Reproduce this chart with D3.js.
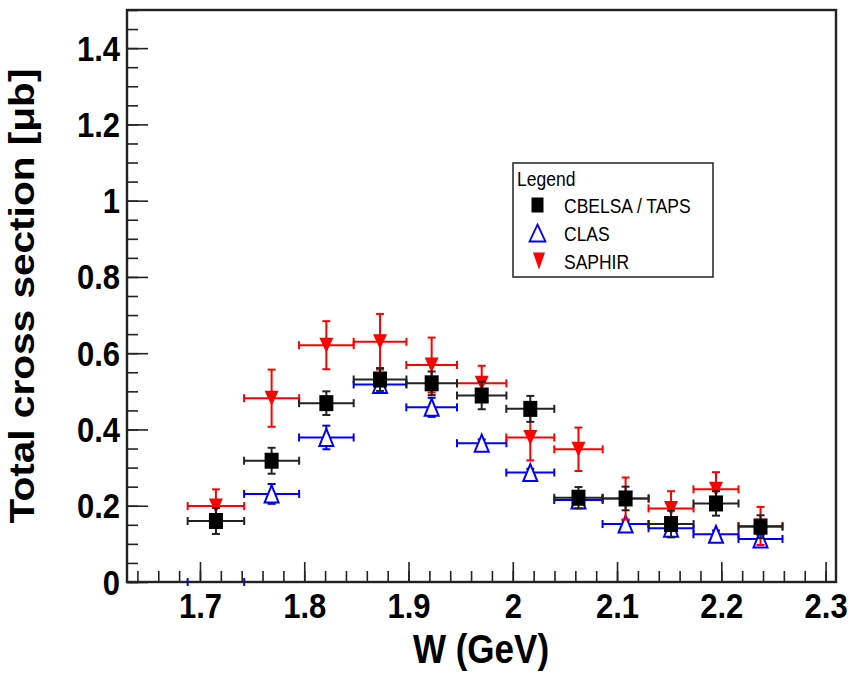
<!DOCTYPE html>
<html>
<head>
<meta charset="utf-8">
<script src="https://cdn.jsdelivr.net/npm/d3@7"></script>
<style>
  html, body { margin: 0; padding: 0; background: #fff; }
  svg { display: block; }
  text { font-family: "Liberation Sans", Arial, Helvetica, sans-serif; }
</style>
</head>
<body>
<svg id="chart" width="850" height="676"></svg>
<script>
// W bins (GeV): centre and half-width of each bin
const wCenter = [1.7153, 1.7687, 1.8212, 1.8727, 1.9222, 1.9702, 2.0168, 2.0630, 2.1082, 2.1518, 2.1949, 2.2376];
const wHalf   = [0.0271, 0.0264, 0.0262, 0.0253, 0.0243, 0.0237, 0.0230, 0.0232, 0.0221, 0.0216, 0.0216, 0.0211];

// Total cross sections in microbarn with their errors
const cbelsaValues = [0.160, 0.318, 0.469, 0.531, 0.521, 0.489, 0.454, 0.221, 0.219, 0.152, 0.206, 0.145];
const cbelsaErrors = [0.034, 0.034, 0.031, 0.030, 0.031, 0.036, 0.034, 0.028, 0.031, 0.035, 0.032, 0.030];
const clasValues   = [0.000, 0.231, 0.379, 0.518, 0.458, 0.364, 0.287, 0.215, 0.152, 0.141, 0.125, 0.113];
const clasErrors   = [0.000, 0.026, 0.031, 0.020, 0.025, 0.010, 0.010, 0.010, 0.010, 0.010, 0.010, 0.010];
const saphirValues = [0.199, 0.482, 0.621, 0.630, 0.569, 0.521, 0.379, 0.348, 0.219, 0.193, 0.243, 0.147];
const saphirErrors = [0.044, 0.075, 0.063, 0.073, 0.072, 0.046, 0.060, 0.057, 0.055, 0.045, 0.045, 0.050];

const xTickValues = [1.7, 1.8, 1.9, 2.0, 2.1, 2.2, 2.3];
const xTickLabels = ["1.7", "1.8", "1.9", "2", "2.1", "2.2", "2.3"];
const yTickValues = [0, 0.2, 0.4, 0.6, 0.8, 1.0, 1.2, 1.4];
const yTickLabels = ["0", "0.2", "0.4", "0.6", "0.8", "1", "1.2", "1.4"];

const seriesNames = ["CBELSA / TAPS", "CLAS", "SAPHIR"];

const svg = d3.select("#chart");
const frame = { left: 127, right: 836, top: 10, bottom: 582 };
const STRETCH = 1.16;   // glyphs are drawn a little taller than wide

const x = d3.scaleLinear().domain([1.63, 2.31]).range([frame.left, frame.right]);
const y = d3.scaleLinear().domain([0, 1.5]).range([frame.bottom, frame.top]);

// ---- data ----
const rows = (vals, errs) => vals.map((v, i) => ({ w: wCenter[i], dw: wHalf[i], v, e: errs[i] }));

const CAP = 4;
function errorBars(g, data, color) {
  const eg = g.append("g").attr("stroke", color).attr("stroke-width", 2).attr("fill", "none");
  data.forEach(d => {
    const cx = x(d.w), cy = y(d.v);
    const x0 = x(d.w - d.dw), x1 = x(d.w + d.dw);
    eg.append("line").attr("x1", x0).attr("x2", x1).attr("y1", cy).attr("y2", cy);
    eg.append("line").attr("x1", x0).attr("x2", x0).attr("y1", cy - CAP).attr("y2", cy + CAP);
    eg.append("line").attr("x1", x1).attr("x2", x1).attr("y1", cy - CAP).attr("y2", cy + CAP);
    if (d.e > 0) {
      const y0 = y(d.v - d.e), y1 = y(d.v + d.e);
      eg.append("line").attr("x1", cx).attr("x2", cx).attr("y1", y0).attr("y2", y1);
      eg.append("line").attr("x1", cx - CAP).attr("x2", cx + CAP).attr("y1", y0).attr("y2", y0);
      eg.append("line").attr("x1", cx - CAP).attr("x2", cx + CAP).attr("y1", y1).attr("y2", y1);
    }
  });
}

const inside = d => y(d.v) < frame.bottom - 0.5;

const triUp = "M0,-8.5L7,8.5L-7,8.5Z";
const triDown = "M-7,-7.5L7,-7.5L0,7.5Z";

// CLAS: open blue triangles
const clas = rows(clasValues, clasErrors);
const gClas = svg.append("g");
errorBars(gClas, clas, "#0000ff");
gClas.selectAll("path").data(clas.filter(inside)).join("path")
  .attr("d", triUp)
  .attr("transform", d => `translate(${x(d.w)},${y(d.v)})`)
  .attr("fill", "#fff").attr("stroke", "#0000ff").attr("stroke-width", 2);

// SAPHIR: full red inverted triangles
const saphir = rows(saphirValues, saphirErrors);
const gSaphir = svg.append("g");
errorBars(gSaphir, saphir, "#ff0000");
gSaphir.selectAll("path").data(saphir.filter(inside)).join("path")
  .attr("d", triDown)
  .attr("transform", d => `translate(${x(d.w)},${y(d.v)})`)
  .attr("fill", "#ff0000");

// CBELSA/TAPS: full black squares
const cbelsa = rows(cbelsaValues, cbelsaErrors);
const gCb = svg.append("g");
errorBars(gCb, cbelsa, "#222");
gCb.selectAll("rect").data(cbelsa.filter(inside)).join("rect")
  .attr("x", d => x(d.w) - 7).attr("y", d => y(d.v) - 8)
  .attr("width", 14).attr("height", 16)
  .attr("fill", "#000");

// ---- axes (ticks point into the frame), drawn over the data ----
const axisColor = "#222";

const yMinor = svg.append("g").attr("transform", `translate(${frame.left},0)`)
  .call(d3.axisLeft(y).tickValues(y.ticks(30)).tickSize(-11).tickSizeOuter(0).tickFormat(""));
const yMajor = svg.append("g").attr("transform", `translate(${frame.left},0)`)
  .call(d3.axisLeft(y).tickValues(yTickValues).tickSize(-21).tickSizeOuter(0)
    .tickPadding(7).tickFormat((d, i) => yTickLabels[i]));
const xMinor = svg.append("g").attr("transform", `translate(0,${frame.bottom})`)
  .call(d3.axisBottom(x).tickValues(x.ticks(34)).tickSize(-11).tickSizeOuter(0).tickFormat(""));
const xMajor = svg.append("g").attr("transform", `translate(0,${frame.bottom})`)
  .call(d3.axisBottom(x).tickValues(xTickValues).tickSize(-20).tickSizeOuter(0)
    .tickFormat((d, i) => xTickLabels[i]));

[yMinor, yMajor, xMinor, xMajor].forEach(g => {
  g.select(".domain").remove();
  g.selectAll(".tick line").attr("stroke", axisColor).attr("stroke-width", 1.6);
});

yMajor.selectAll(".tick text")
  .attr("fill", "#000").attr("font-size", 31).attr("font-weight", "bold")
  .attr("dy", null).attr("y", 12 / STRETCH)
  .attr("transform", `scale(1,${STRETCH})`);

xMajor.selectAll(".tick text")
  .attr("fill", "#000").attr("font-size", 31).attr("font-weight", "bold")
  .attr("dy", null).attr("y", 36 / STRETCH)
  .attr("transform", `scale(1,${STRETCH})`);

// frame
svg.append("rect")
  .attr("x", frame.left).attr("y", frame.top)
  .attr("width", frame.right - frame.left).attr("height", frame.bottom - frame.top)
  .attr("fill", "none").attr("stroke", axisColor).attr("stroke-width", 2.4);

// axis titles
svg.append("text")
  .attr("transform", `translate(481,663) scale(1,${STRETCH})`)
  .attr("text-anchor", "middle").attr("font-size", 35).attr("font-weight", "bold")
  .attr("fill", "#000").text("W (GeV)");

svg.append("text")
  .attr("transform", `translate(34,296) scale(1,${STRETCH}) rotate(-90)`)
  .attr("text-anchor", "middle").attr("font-size", 35).attr("font-weight", "bold")
  .attr("fill", "#000").text("Total cross section [\u03bcb]");

// ---- legend ----
const lg = svg.append("g");
lg.append("rect").attr("x", 513).attr("y", 163).attr("width", 200).attr("height", 114)
  .attr("fill", "#fff").attr("stroke", "#222").attr("stroke-width", 1.5);

const legendText = (tx, ty, s) => lg.append("text")
  .attr("transform", `translate(${tx},${ty}) scale(1,${STRETCH})`)
  .attr("font-size", 17.5).attr("fill", "#000").text(s);

legendText(517, 186, "Legend");
const rowY = [205, 233, 261];
seriesNames.forEach((name, i) => legendText(564, rowY[i] + 8, name));

lg.append("rect").attr("x", 531.5).attr("y", rowY[0] - 7.5).attr("width", 12).attr("height", 15).attr("fill", "#000");
lg.append("path").attr("d", "M0,-8.5L8,8.5L-8,8.5Z").attr("transform", `translate(537.5,${rowY[1]})`)
  .attr("fill", "#fff").attr("stroke", "#0000ff").attr("stroke-width", 1.8);
lg.append("path").attr("d", "M-6,-8.5L6,-8.5L0,8.5Z").attr("transform", `translate(539,${rowY[2]})`)
  .attr("fill", "#ff0000");
</script>
</body>
</html>
